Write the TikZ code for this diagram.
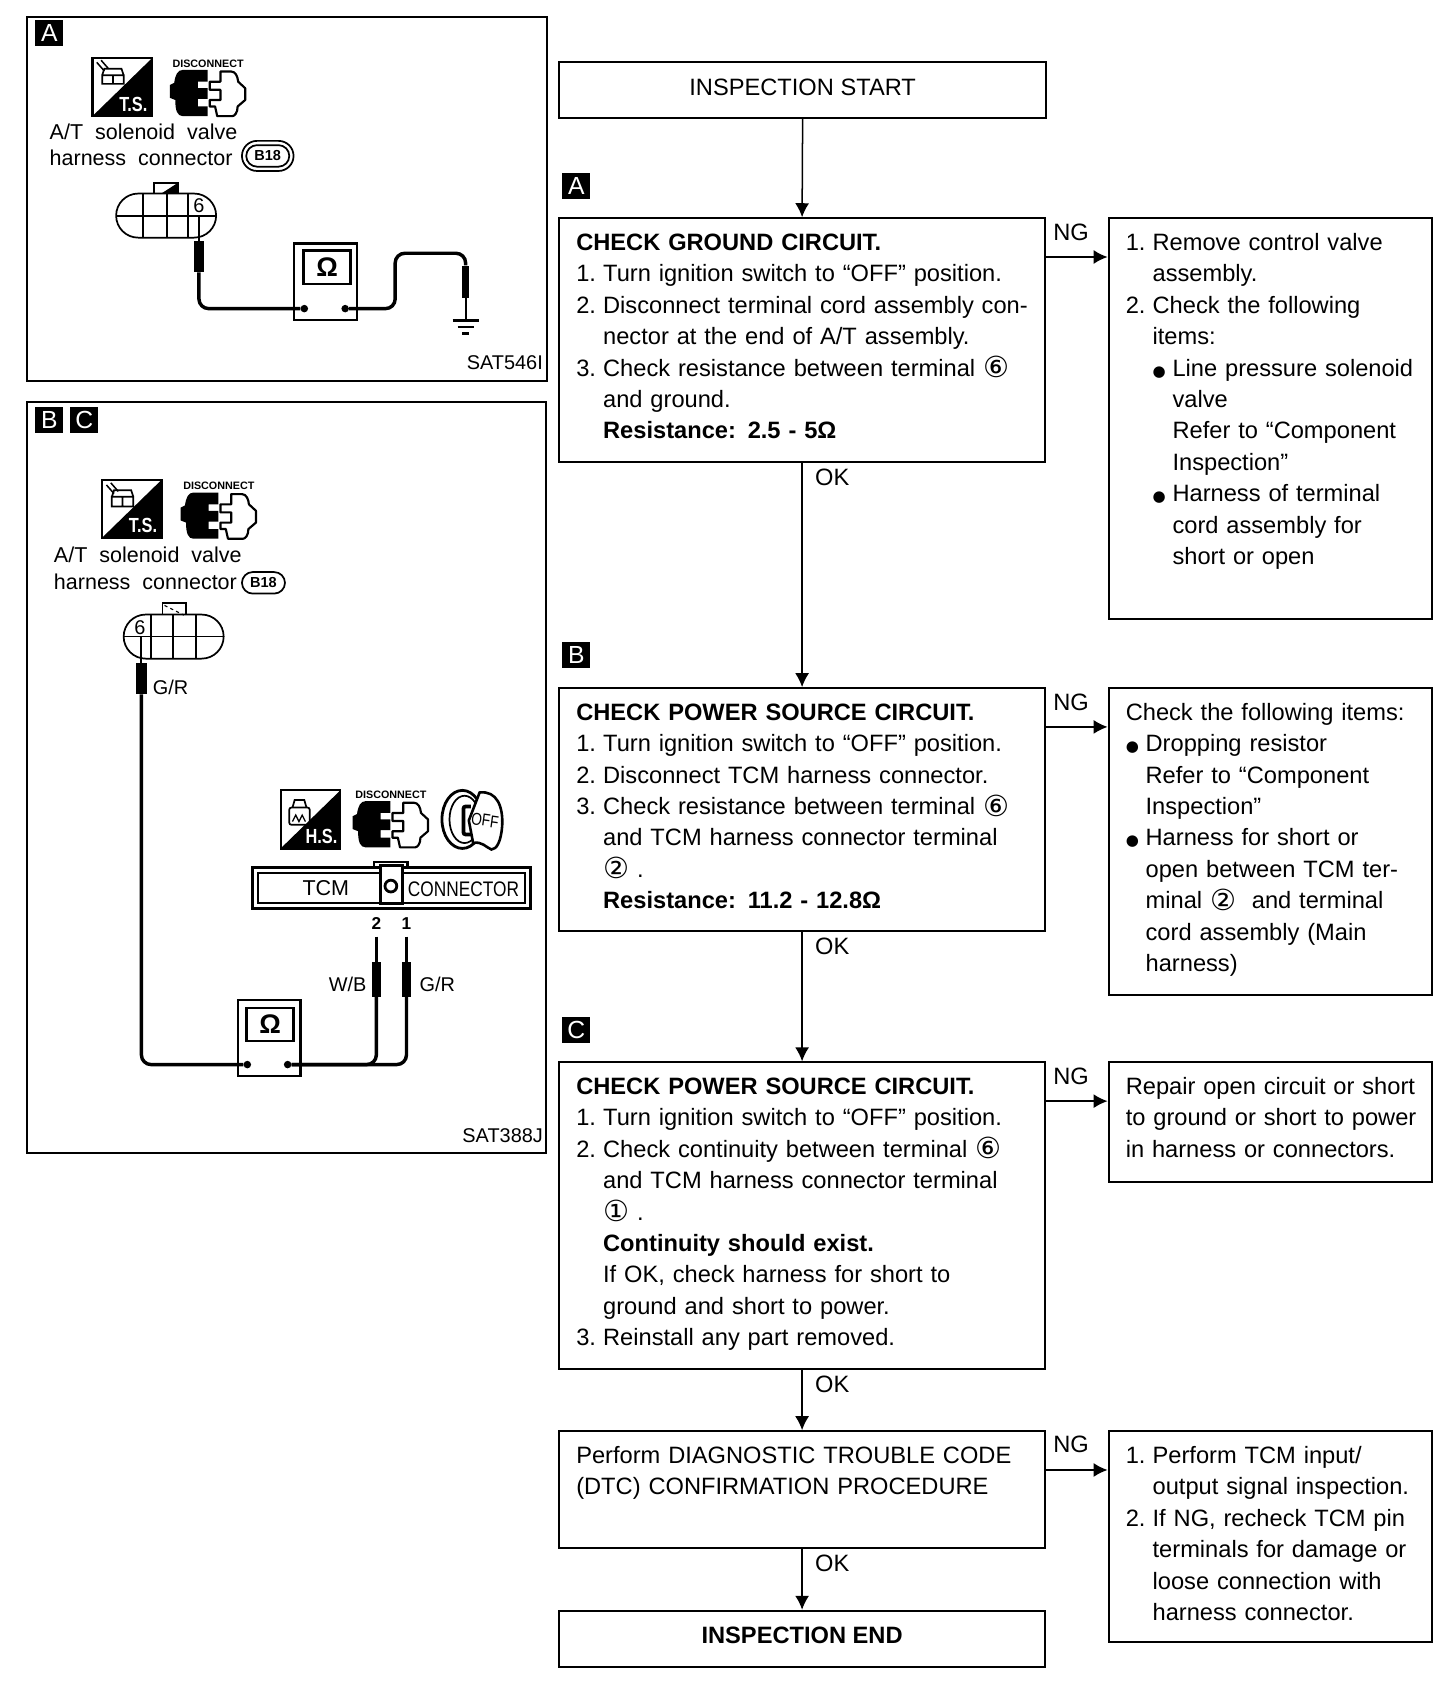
\documentclass[tikz,border=0pt]{standalone}
\usepackage{fontspec}
\setmainfont{Liberation Sans}
\newfontfamily\symfont{DejaVu Sans}
\usetikzlibrary{shapes.misc,arrows.meta}
\newcommand{\flowfont}{\fontsize{22}{29.2}\selectfont}
\newcommand{\termnum}[1]{\smash{\raisebox{-1.5pt}{\symfont\fontsize{27}{29.2}\selectfont #1}}}
\newcommand{\itm}[2]{\mbox{\makebox[25pt][l]{#1}#2}}
\newcommand{\ind}[1]{\mbox{\hspace*{25pt}#1}}
\newcommand{\bul}{\makebox[18.5pt][l]{\symfont\fontsize{14}{14}\selectfont ●}}
\tikzstyle{line} = [draw, line width=1.4pt, -{Latex[length=13pt,width=13pt]}]
\tikzstyle{mainbox} = [draw, line width=1.8pt, anchor=north west, align=left, inner xsep=16pt, inner ysep=0pt, text height=30pt, text width=420pt, font=\flowfont]
\tikzstyle{ngbox} = [mainbox, text width=269pt]
\tikzstyle{endbox} = [draw, line width=1.8pt, anchor=north west, minimum width=452pt, minimum height=52pt, text height=16pt, text depth=7pt, font=\flowfont]
\tikzstyle{flowlabel} = [font=\flowfont, inner sep=0pt]
\tikzstyle{tag} = [fill=black, text=white, minimum width=26pt, minimum height=24pt, inner sep=0pt, font=\fontsize{23}{23}\selectfont]
\tikzstyle{paneltext} = [anchor=base west, inner sep=0pt, font=\fontsize{20}{24}\selectfont]
\tikzstyle{smalltext} = [inner sep=0pt, font=\fontsize{18.5}{20}\selectfont]
\tikzstyle{wire} = [draw, line width=3.2pt, rounded corners=9pt]
\tikzstyle{probe} = [fill=black, inner sep=0pt]
\tikzstyle{meter} = [draw, line width=2pt, fill=white, anchor=north west, minimum width=58.5pt, minimum height=71pt, inner sep=0pt]
\tikzstyle{screen} = [draw, line width=2.4pt, anchor=north west, minimum width=44pt, minimum height=31pt, inner sep=0pt, font=\bfseries\fontsize{25}{25}\selectfont]
\tikzstyle{terminal} = [fill=black, circle, minimum size=7pt, inner sep=0pt]
\tikzstyle{connbody} = [draw, line width=1.6pt, rounded rectangle, inner sep=0pt, minimum width=93pt, minimum height=41pt]
\newcommand{\discon}[2]{%
  \begin{scope}[shift={(#1,#2)}]
    \node[inner sep=0pt, font=\bfseries\fontsize{10}{10}\selectfont] at (35.5,-6) {DISCONNECT};
    \fill (12,0) -- (35,0) -- (35,11) -- (26,11) -- (26,17) -- (35,17) -- (35,27) -- (26,27) -- (26,34) -- (35,34) -- (35,43) -- (12,43) .. controls (7,43) and (5,38) .. (5,28) -- (0,26) -- (0,14) -- (4,12) .. controls (5,5) and (7,0) .. (12,0) -- cycle;
    \draw[line width=2pt, line join=round] (47,1.5) -- (57,1.5) .. controls (61,1.5) and (63,6) .. (63.5,11) -- (70,17) -- (70,28) -- (63,34) .. controls (63,40) and (60,43) .. (58,43) -- (44,43) -- (42,34) -- (37,34) -- (37,28) -- (47,28) -- (47,18.5) -- (37,18.5) -- (37,11) -- (47,11) -- cycle;
  \end{scope}}
\newcommand{\seticon}[3]{%
  \begin{scope}[shift={(#1,#2)}]
    \draw[line width=2pt] (0,0) rectangle (55.5,54);
    \fill (0,54) -- (55.5,0) -- (55.5,54) -- cycle;
    \node[text=white, inner sep=0pt, xscale=.8, font=\bfseries\fontsize{19}{19}\selectfont] at (38,43) {#3};
  \end{scope}}
\begin{document}
\begin{tikzpicture}[x=1pt, y=-1pt]
  \useasboundingbox (0,0) rectangle (1354,1567.9);
  % panel A
  \draw[line width=2pt] (25,16) rectangle (509,354);
  \node[tag] (tagPanelA) at (46,31) {A};
  \seticon{86}{54}{T.S.}
  \draw[line width=1.6pt] (95,70) rectangle (115,78) (95,70) -- (97,64) -- (113,64) -- (115,70) (105,70) -- (105,78);
  \draw[line width=1.4pt] (90,58) -- (97,66) (94,56) -- (101,64);
  \discon{158}{65}
  \node[paneltext] (solA) at (46,130) {A/T\ \ solenoid\ \ valve};
  \node[paneltext] (harA) at (46,154) {harness\ \ connector};
  \node[draw, line width=1.6pt, rounded rectangle, minimum width=48pt, minimum height=28pt, inner sep=0pt] (ovalOutA) at (249,145) {};
  \node[draw, line width=1.6pt, rounded rectangle, minimum width=40pt, minimum height=20pt, inner sep=0pt, font=\bfseries\fontsize{13.5}{14}\selectfont] (ovalA) at (249,145) {B18};
  \node[connbody] (connA) at (154.5,200.5) {};
  \draw[line width=1.6pt] (108,201) -- (201,201);
  \draw[line width=1.6pt] (133,180) -- (133,221) (155,180) -- (155,221) (175,180) -- (175,221);
  \draw[line width=1.6pt] (143,180) -- (143,170) -- (165.5,170) -- (165.5,180);
  \fill (150,180) -- (165.5,170) -- (165.5,180) -- cycle;
  \node[smalltext] (sixA) at (185,191) {6};
  \node[probe, minimum width=9pt, minimum height=29pt] (probeA) at (185,238.5) {};
  \draw[line width=2pt] (185,201) -- (probeA);
  \node[meter] (meterA) at (272.5,225.5) {};
  \node[screen] (screenA) at (281,232) {Ω};
  \node[terminal] (termAl) at (283,287) {};
  \node[terminal] (termAr) at (321,287) {};
  \path[wire] (probeA.south) |- (termAl);
  \node[probe, minimum width=7pt, minimum height=30pt] (probeGnd) at (433,262) {};
  \coordinate (gndA) at (433,298);
  \path[wire] (termAr) -- (367.5,287) -- (367.5,235.5) -- (433,235.5) -- (probeGnd.north);
  \draw[line width=2pt] (probeGnd) -- (gndA);
  \draw[line width=2pt] (421,298) -- (445,298) (425.5,304) -- (440.5,304);
  \draw[line width=2.5pt] (430,310) -- (436,310);
  \node[smalltext, anchor=east] (codeA) at (505,337) {SAT546I};
  % panel B C
  \draw[line width=2pt] (25,374) rectangle (508,1072);
  \node[tag] (tagPanelB) at (46,390.5) {B};
  \node[tag] (tagPanelC) at (78.5,390.5) {C};
  \seticon{95}{446}{T.S.}
  \draw[line width=1.6pt] (104,462) rectangle (124,471) (104,462) -- (106,456) -- (122,456) -- (124,462) (114,462) -- (114,471);
  \draw[line width=1.4pt] (99,451) -- (106,459) (103,449) -- (110,457);
  \discon{168}{458}
  \node[paneltext] (solB) at (50,523.5) {A/T\ \ solenoid\ \ valve};
  \node[paneltext] (harB) at (50,548.5) {harness\ \ connector};
  \node[draw, line width=1.6pt, rounded rectangle, minimum width=40pt, minimum height=20pt, inner sep=0pt, font=\bfseries\fontsize{13.5}{14}\selectfont] (ovalB) at (245,542) {B18};
  \node[connbody] (connB) at (161.5,592) {};
  \draw[line width=1.6pt] (115,592) -- (208,592);
  \draw[line width=1.6pt] (140.5,572) -- (140.5,612) (161,572) -- (161,612) (182,572) -- (182,612);
  \draw[line width=1.6pt] (151,572) -- (151,561) -- (173,561) -- (173,572);
  \draw[line width=1pt, dashed] (153,563) -- (171,572);
  \node[smalltext] (sixB) at (130,584) {6};
  \node[probe, minimum width=9.5pt, minimum height=29pt] (probeB) at (131.5,631) {};
  \draw[line width=2pt] (131.5,592) -- (probeB);
  \node[smalltext, anchor=west] (grB) at (142,639.5) {G/R};
  \node[meter] (meterB) at (220,929) {};
  \node[screen] (screenB) at (228,936) {Ω};
  \node[terminal] (termBl) at (230,990) {};
  \node[terminal] (termBr) at (267.5,990) {};
  \path[wire] (probeB.south) |- (termBl);
  \seticon{261}{735}{H.S.}
  \draw[line width=1.6pt, rounded corners=2pt] (269,751) rectangle (288,767);
  \draw[line width=1.2pt] (272,764) -- (275,758) -- (278,764) -- (281,758) -- (284,764);
  \draw[line width=1.6pt] (272,751) -- (274,744) -- (283,744) -- (285,751);
  \discon{328}{745}
  % ignition key
  \draw[line width=2.6pt] (430,762) ellipse (19 and 27);
  \draw[line width=1.6pt] (432,762) ellipse (14 and 22);
  \draw[line width=2.4pt, fill=white] (446,737) .. controls (462,735) and (468,750) .. (467,768) .. controls (466,782) and (462,790) .. (457,790) .. controls (452,788) and (448,782) .. (440,784) -- (436,763) -- cycle;
  \draw[line width=3.5pt, rounded corners=2pt] (438,750) -- (431,750) -- (431,776) -- (438,776);
  \node[inner sep=0pt, rotate=-8, xscale=.8, font=\fontsize{16}{16}\selectfont] (keyOff) at (451,763) {OFF};
  % TCM connector
  \draw[line width=2pt] (348,806) -- (348,802) -- (379,802) -- (379,806);
  \draw[line width=3pt] (235,807) rectangle (493,845);
  \draw[line width=2pt] (240,812) rectangle (488,840);
  \draw[line width=2.8pt, fill=white] (354,805) rectangle (374,840);
  \node[draw, circle, line width=2.6pt, minimum size=11pt, inner sep=0pt] (tcmPin) at (363.5,824) {};
  \node[inner sep=0pt, font=\fontsize{20}{20}\selectfont] (tcmLeft) at (303,826) {TCM};
  \node[inner sep=0pt, xscale=.82, font=\fontsize{19.6}{20}\selectfont] (tcmRight) at (431,827) {CONNECTOR};
  \node[smalltext, font=\bfseries\fontsize{16}{16}\selectfont] (twoB) at (350,859) {2};
  \node[smalltext, font=\bfseries\fontsize{16}{16}\selectfont] (oneB) at (378,859) {1};
  \coordinate (pinTwo) at (350,871);
  \coordinate (pinOne) at (378,871);
  \node[probe, minimum width=8pt, minimum height=32pt] (probeTwo) at (350,911) {};
  \node[probe, minimum width=9pt, minimum height=32pt] (probeOne) at (378,911) {};
  \node[smalltext, anchor=east] (wbB) at (341,915) {W/B};
  \node[smalltext, anchor=west] (grC) at (390,915) {G/R};
  \draw[line width=2.4pt] (pinTwo) -- (probeTwo);
  \draw[line width=2.4pt] (pinOne) -- (probeOne);
  \path[wire] (probeOne.south) |- (termBr);
  \path[wire] (probeTwo.south) |- (termBr);
  \node[smalltext, anchor=east] (codeB) at (505,1056) {SAT388J};
  % flow chart
  \node[endbox, minimum width=453pt] (start) at (519,57) {INSPECTION START};
  \node[tag] (tagA) at (536,173) {A};
  \node[mainbox, text depth=197pt] (checkA) at (519,202) {\textbf{CHECK GROUND CIRCUIT.}\\
    \itm{1.}{Turn ignition switch to “OFF” position.}\\
    \itm{2.}{Disconnect terminal cord assembly con-}\\
    \ind{nector at the end of A/T assembly.}\\
    \itm{3.}{Check resistance between terminal \termnum{⑥}}\\
    \ind{and ground.}\\
    \ind{\textbf{Resistance: 2.5 - 5Ω}}};
  \node[ngbox, text depth=343pt] (ngA) at (1030,202) {\itm{1.}{Remove control valve}\\
    \ind{assembly.}\\
    \itm{2.}{Check the following}\\
    \ind{items:}\\
    \ind{\bul Line pressure solenoid}\\
    \ind{\hspace*{18.5pt}valve}\\
    \ind{\hspace*{18.5pt}Refer to “Component}\\
    \ind{\hspace*{18.5pt}Inspection”}\\
    \ind{\bul Harness of terminal}\\
    \ind{\hspace*{18.5pt}cord assembly for}\\
    \ind{\hspace*{18.5pt}short or open}};
  \node[tag] (tagB) at (536,609) {B};
  \node[mainbox, text depth=196pt] (checkB) at (519,639) {\textbf{CHECK POWER SOURCE CIRCUIT.}\\
    \itm{1.}{Turn ignition switch to “OFF” position.}\\
    \itm{2.}{Disconnect TCM harness connector.}\\
    \itm{3.}{Check resistance between terminal \termnum{⑥}}\\
    \ind{and TCM harness connector terminal}\\
    \ind{\termnum{②} .}\\
    \ind{\textbf{Resistance: 11.2 - 12.8Ω}}};
  \node[ngbox, text depth=255pt] (ngB) at (1030,639) {Check the following items:\\
    \bul Dropping resistor\\
    \hspace*{18.5pt}Refer to “Component\\
    \hspace*{18.5pt}Inspection”\\
    \bul Harness for short or\\
    \hspace*{18.5pt}open between TCM ter-\\
    \hspace*{18.5pt}minal \termnum{②}\ \ and terminal\\
    \hspace*{18.5pt}cord assembly (Main\\
    \hspace*{18.5pt}harness)};
  \node[tag] (tagC) at (536,958) {C};
  \node[mainbox, text depth=255pt] (checkC) at (519,987) {\textbf{CHECK POWER SOURCE CIRCUIT.}\\
    \itm{1.}{Turn ignition switch to “OFF” position.}\\
    \itm{2.}{Check continuity between terminal \termnum{⑥}}\\
    \ind{and TCM harness connector terminal}\\
    \ind{\termnum{①} .}\\
    \ind{\textbf{Continuity should exist.}}\\
    \ind{If OK, check harness for short to}\\
    \ind{ground and short to power.}\\
    \itm{3.}{Reinstall any part removed.}};
  \node[ngbox, text depth=81pt] (ngC) at (1030,987) {\mbox{Repair open circuit or short}\\
    \mbox{to ground or short to power}\\
    \mbox{in harness or connectors.}};
  \node[mainbox, text depth=79pt] (dtc) at (519,1330) {Perform DIAGNOSTIC TROUBLE CODE\\
    (DTC) CONFIRMATION PROCEDURE};
  \node[ngbox, text depth=166pt] (ngD) at (1030,1330) {\itm{1.}{Perform TCM input/}\\
    \ind{output signal inspection.}\\
    \itm{2.}{If NG, recheck TCM pin}\\
    \ind{terminals for damage or}\\
    \ind{loose connection with}\\
    \ind{harness connector.}};
  \node[endbox, font=\flowfont\bfseries] (end) at (519,1497) {INSPECTION END};
  \path [line] (start.south) -- (checkA.north);
  \path [line] (checkA.south) -- (checkB.north);
  \path [line] (checkB.south) -- (checkC.north);
  \path [line] (checkC.south) -- (dtc.north);
  \path [line] (dtc.south) -- (end.north);
  \path [line] ([yshift=-37pt]checkA.north east) -- ([yshift=-37pt]ngA.north west);
  \path [line] ([yshift=-37pt]checkB.north east) -- ([yshift=-37pt]ngB.north west);
  \path [line] ([yshift=-37pt]checkC.north east) -- ([yshift=-37pt]ngC.north west);
  \path [line] ([yshift=-37pt]dtc.north east) -- ([yshift=-37pt]ngD.north west);
  \node[flowlabel] (ngLabelA) at (996,216) {NG};
  \node[flowlabel] (ngLabelB) at (996,653) {NG};
  \node[flowlabel] (ngLabelC) at (996,1001) {NG};
  \node[flowlabel] (ngLabelD) at (996,1343) {NG};
  \node[flowlabel] (okLabelA) at (774,444) {OK};
  \node[flowlabel] (okLabelB) at (774,880) {OK};
  \node[flowlabel] (okLabelC) at (774,1287) {OK};
  \node[flowlabel] (okLabelD) at (774,1454) {OK};
\end{tikzpicture}
\end{document}
